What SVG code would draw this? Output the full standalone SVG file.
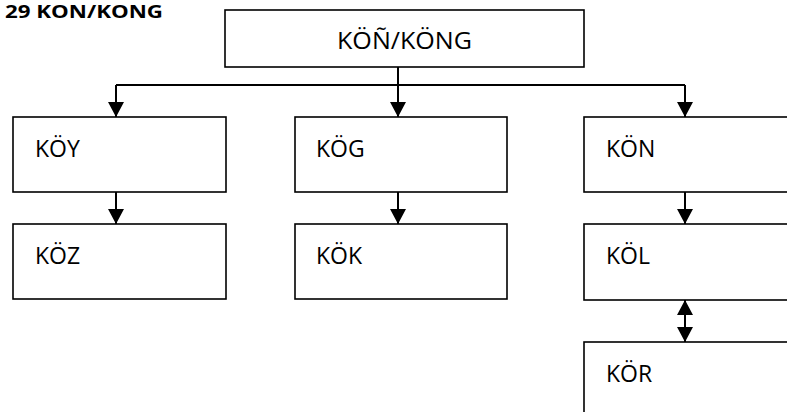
<svg xmlns="http://www.w3.org/2000/svg" width="787" height="412" viewBox="0 0 787 412">
<style>
.box{fill:#fff;stroke:#000;stroke-width:1.6}
.lbl{font-family:"Open Sans","Liberation Sans",sans-serif;font-size:23px;fill:#000}
.conn{fill:none;stroke:#000;stroke-width:2}
.title{font-family:"Open Sans","Liberation Sans",sans-serif;font-size:17px;font-weight:bold;fill:#000}
</style>
<defs>
<marker id="ahd" viewBox="0 0 15 16" refX="15" refY="8" markerWidth="15" markerHeight="16" markerUnits="userSpaceOnUse" orient="auto-start-reverse">
<path d="M0,0 L15,8 L0,16 Z" fill="#000"/>
</marker>
</defs>
<text class="title" x="5" y="18" textLength="158" lengthAdjust="spacingAndGlyphs">29 KON/KONG</text>
<g id="connectors">
<path class="conn" d="M398,67 V117" marker-end="url(#ahd)"/>
<path class="conn" d="M116,85 H685"/>
<path class="conn" d="M116,85 V117" marker-end="url(#ahd)"/>
<path class="conn" d="M685,85 V117" marker-end="url(#ahd)"/>
<path class="conn" d="M116,192 V224" marker-end="url(#ahd)"/>
<path class="conn" d="M398,192 V224" marker-end="url(#ahd)"/>
<path class="conn" d="M685,192 V224" marker-end="url(#ahd)"/>
<path class="conn" d="M685,300 V342" marker-start="url(#ahd)" marker-end="url(#ahd)"/>
</g>
<g id="node-top"><rect class="box" x="225" y="10" width="359" height="57"/><text class="lbl" x="337" y="49" textLength="135" lengthAdjust="spacingAndGlyphs">KÖÑ/KÖNG</text></g>
<g id="node-koy"><rect class="box" x="13" y="117" width="213" height="75"/><text class="lbl" x="35" y="157">KÖY</text></g>
<g id="node-kog"><rect class="box" x="295" y="117" width="212" height="75"/><text class="lbl" x="316" y="157">KÖG</text></g>
<g id="node-kon"><rect class="box" x="584" y="117" width="210" height="75"/><text class="lbl" x="606" y="157">KÖN</text></g>
<g id="node-koz"><rect class="box" x="13" y="224" width="213" height="75"/><text class="lbl" x="35" y="264">KÖZ</text></g>
<g id="node-kok"><rect class="box" x="295" y="224" width="212" height="75"/><text class="lbl" x="316" y="264">KÖK</text></g>
<g id="node-kol"><rect class="box" x="584" y="224" width="210" height="76"/><text class="lbl" x="606" y="264">KÖL</text></g>
<g id="node-kor"><rect class="box" x="584" y="342" width="210" height="80"/><text class="lbl" x="606" y="382">KÖR</text></g>
</svg>
